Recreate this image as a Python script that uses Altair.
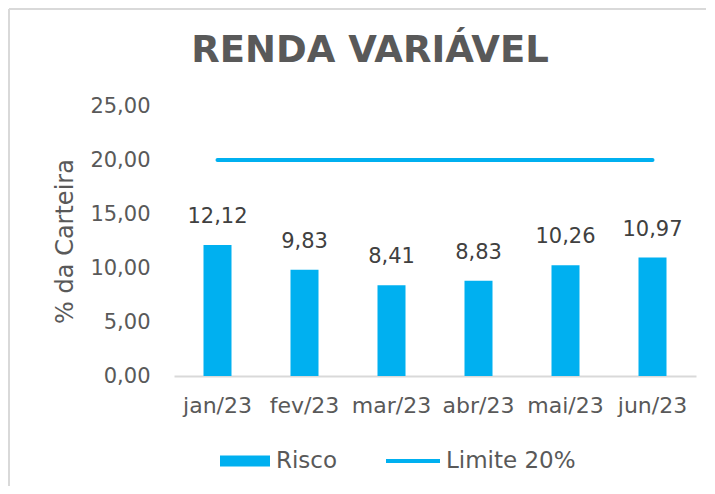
import altair as alt
import pandas as pd

months = ["jan/23", "fev/23", "mar/23", "abr/23", "mai/23", "jun/23"]
risco = [12.12, 9.83, 8.41, 8.83, 10.26, 10.97]
limite = [20, 20, 20, 20, 20, 20]
y_ticks = [0, 5, 10, 15, 20, 25]

df = pd.DataFrame({
    "mes": months,
    "risco": risco,
    "limite": limite,
    "s1": ["Risco"] * len(months),
    "s2": ["Limite 20%"] * len(months),
})

CYAN = "#00B0F0"
GRAY = "#595959"
FONT = "DejaVu Sans"

x_enc = alt.X("mes:N", sort=months,
              scale=alt.Scale(paddingInner=0, paddingOuter=0),
              axis=alt.Axis(title=None, labelAngle=0, ticks=False, labelPadding=19,
                            labelFontSize=22, labelColor=GRAY, labelFont=FONT,
                            domainColor="#d9d9d9", domainWidth=2))
y_scale = alt.Scale(domain=[0, 25], nice=False)

base = alt.Chart(df)

bars = base.mark_bar(size=28).encode(
    x=x_enc,
    y=alt.Y("risco:Q", scale=y_scale,
            axis=alt.Axis(values=y_ticks, title="% da Carteira", grid=False, ticks=False,
                          domain=False, labelPadding=24, labelFontSize=21, labelColor=GRAY,
                          labelFont=FONT, titleFont=FONT, titleFontSize=24,
                          titleFontWeight="normal", titleColor=GRAY, titlePadding=12,
                          labelExpr="replace(format(datum.value, '.2f'), '.', ',')")),
    fill=alt.Fill("s1:N", scale=alt.Scale(domain=["Risco"], range=[CYAN]),
                  legend=alt.Legend(title=None, orient="none", legendX=46, legendY=330,
                                    symbolType="M-1,-0.22H1V0.22H-1Z", symbolSize=2500,
                                    symbolStrokeWidth=0, labelFontSize=23, labelFont=FONT,
                                    labelColor=GRAY, labelOffset=6)),
)

labels = base.transform_calculate(
    lbl="replace(format(datum.risco, '.2f'), '.', ',')"
).mark_text(baseline="middle", dy=-28, fontSize=21, font=FONT, color="#404040").encode(
    x=alt.X("mes:N", sort=months),
    y=alt.Y("risco:Q", scale=y_scale),
    text="lbl:N",
)

line = base.mark_line(strokeWidth=4, strokeCap="round").encode(
    x=alt.X("mes:N", sort=months),
    y=alt.Y("limite:Q", scale=y_scale),
    stroke=alt.Stroke("s2:N", scale=alt.Scale(domain=["Limite 20%"], range=[CYAN]),
                      legend=alt.Legend(title=None, orient="none", legendX=210, legendY=326,
                                        symbolType="stroke", symbolSize=2916,
                                        symbolStrokeWidth=4, labelFontSize=23,
                                        labelFont=FONT, labelColor=GRAY, labelOffset=4)),
)

border_top = alt.Chart(pd.DataFrame({"a": [0]})).mark_rule(color="#d9d9d9", strokeWidth=2).encode(
    x=alt.value(-165), x2=alt.value(560), y=alt.value(-97))
border_left = alt.Chart(pd.DataFrame({"a": [0]})).mark_rule(color="#d9d9d9", strokeWidth=2).encode(
    x=alt.value(-165), y=alt.value(-97), y2=alt.value(400))

chart = alt.layer(border_top, border_left, bars, labels, line).properties(
    width=522, height=270,
    autosize=alt.AutoSizeParams(type="none"),
    padding={"left": 166, "top": 98, "right": 10, "bottom": 110},
    title=alt.TitleParams("RENDA VARIÁVEL", font=FONT, fontSize=37, fontWeight=900,
                          color=GRAY, anchor="middle", frame="group", dx=-65, dy=66),
).configure_view(stroke=None)

chart.save("out.html", embed_options={"renderer": "svg", "actions": False})
